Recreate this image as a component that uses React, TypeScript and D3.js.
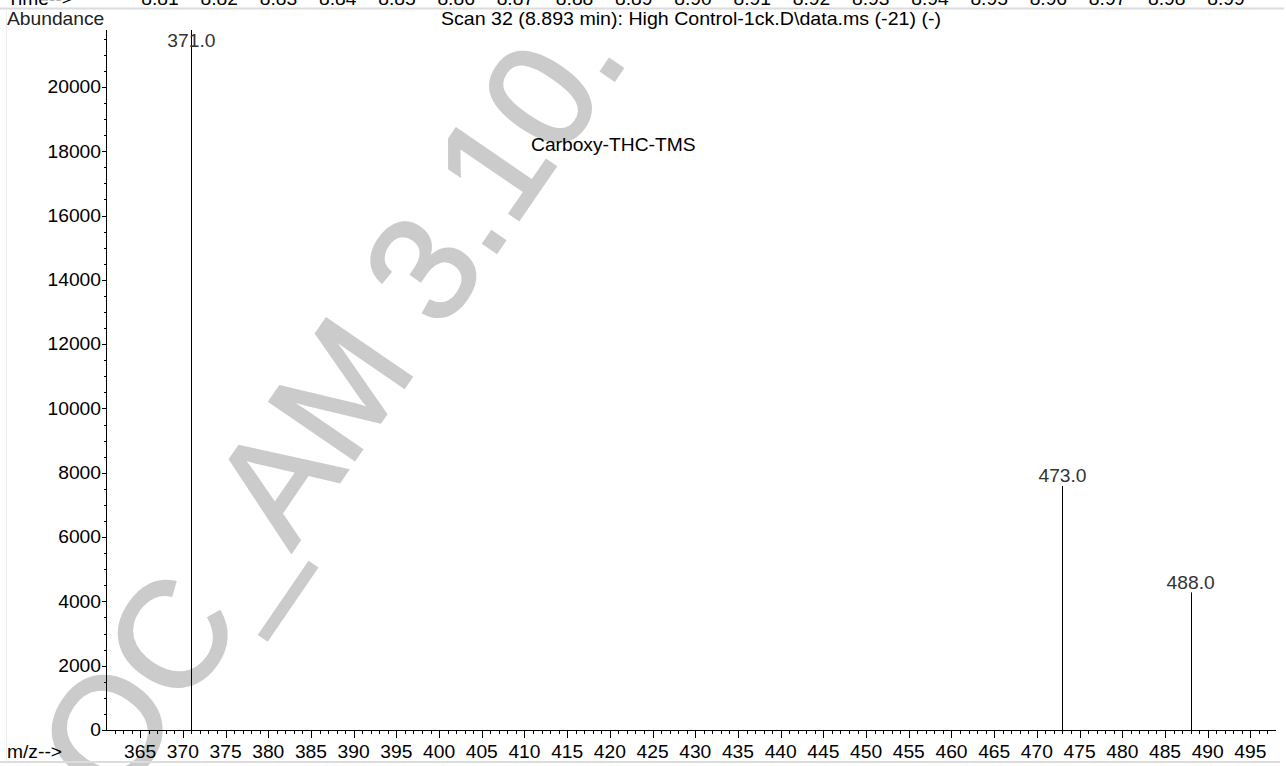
import React from "react";
import * as d3 from "d3";

const mzValues = [371.0, 473.0, 488.0];
const abundances = [21770, 7590, 4280];
const peakLabels = ["371.0", "473.0", "488.0"];
const yTickValues = d3.range(0, 20001, 2000);
const yMinorValues = d3.range(0, 21770, 500);
const xTickValues = d3.range(365, 496, 5);
const xMinorValues = d3.range(362, 498, 1);
const timeLabels = ["8.81", "8.82", "8.83", "8.84", "8.85", "8.86", "8.87", "8.88", "8.89", "8.90", "8.91", "8.92", "8.93", "8.94", "8.95", "8.96", "8.97", "8.98", "8.99"];
const titleText = "Scan 32 (8.893 min): High Control-1ck.D\\data.ms (-21) (-)";
const compoundName = "Carboxy-THC-TMS";
const watermarkText = "OC_AM 3.10.";

const W = 1286;
const H = 766;
const FONT = "'Liberation Sans', Arial, Helvetica, sans-serif";

function T({ x, y, anchor = "start", fill = "#000", size = 17.5, len, children }: any) {
  const extra: any = len ? { textLength: len / 1.1, lengthAdjust: "spacingAndGlyphs" } : {};
  return (
    <g transform={`translate(${x},${y}) scale(1.1,1)`}>
      <text textAnchor={anchor} fontSize={size} fill={fill} fontFamily={FONT} {...extra}>
        {children}
      </text>
    </g>
  );
}

export default function App() {
  const x = d3.scaleLinear().domain([361, 498]).range([106, 1276]);
  const y = d3.scaleLinear().domain([0, 21770]).range([730, 30]);
  const tx = d3.scaleLinear().domain([0, timeLabels.length - 1]).range([160, 1226]);
  const x0 = x.range()[0];
  const y0 = y(0);

  return (
    <svg
      width={W}
      height={H}
      viewBox={`0 0 ${W} ${H}`}
      style={{ position: "absolute", left: 0, top: 0, background: "#fff" }}
      fontFamily={FONT}
    >
      <rect x={0} y={0} width={W} height={H} fill="#fff" />
      {/* watermark */}
      <text
        transform="translate(117,807) rotate(-55.6)"
        fontSize={150}
        fill="#cbcbcb"
        stroke="#cbcbcb"
        strokeWidth={2.5}
        fontFamily={FONT}
      >
        {watermarkText}
      </text>

      {/* frame lines */}
      <line x1={0} x2={1284} y1={8.5} y2={8.5} stroke="#dcdcdc" strokeWidth={2} />
      <line x1={0} x2={1280} y1={762} y2={762} stroke="#dcdcdc" strokeWidth={2} />
      <line x1={6.5} x2={6.5} y1={9} y2={762} stroke="#ececec" strokeWidth={1} />

      {/* previous strip time labels */}
      <T x={7} y={5}>Time--&gt;</T>
      {timeLabels.map((t, i) => (
        <T key={t} x={tx(i)} y={5} anchor="middle">{t}</T>
      ))}

      <T x={7} y={25} fill="#222">Abundance</T>
      <T x={441} y={25} len={500}>{titleText}</T>

      {/* axes */}
      <line x1={x0 + 0.5} x2={x0 + 0.5} y1={y.range()[1]} y2={y0} stroke="#000" strokeWidth={1} />
      <line x1={x0} x2={x.range()[1]} y1={y0 + 0.5} y2={y0 + 0.5} stroke="#000" strokeWidth={1} />

      {yMinorValues.map((v) => {
        const major = v % 2000 === 0;
        const yy = Math.round(y(v)) + 0.5;
        return <line key={"ym" + v} x1={x0 - (major ? 4 : 2)} x2={x0} y1={yy} y2={yy} stroke="#000" strokeWidth={1} />;
      })}
      {yTickValues.map((v) => (
        <T key={"yl" + v} x={101} y={y(v) + 6.3} anchor="end">{String(v)}</T>
      ))}

      {xMinorValues.map((v) => {
        const major = v % 5 === 0;
        const xx = Math.round(x(v)) + 0.5;
        return <line key={"xm" + v} x1={xx} x2={xx} y1={y0} y2={y0 + (major ? 8 : 4)} stroke="#000" strokeWidth={1} />;
      })}
      {xTickValues.map((v) => (
        <T key={"xl" + v} x={x(v)} y={758} anchor="middle">{String(v)}</T>
      ))}
      <T x={7} y={758}>m/z--&gt;</T>

      {/* peaks */}
      {mzValues.map((m, i) => {
        const xx = Math.round(x(m)) + 0.5;
        return <line key={"p" + m} x1={xx} x2={xx} y1={y0} y2={y(abundances[i])} stroke="#000" strokeWidth={1} />;
      })}
      {mzValues.map((m, i) => (
        <T key={"pl" + m} x={x(m)} y={Math.max(y(abundances[i]) - 3.5, 47.3)} anchor="middle" fill="#333">
          {peakLabels[i]}
        </T>
      ))}

      <T x={531} y={151}>{compoundName}</T>
    </svg>
  );
}
